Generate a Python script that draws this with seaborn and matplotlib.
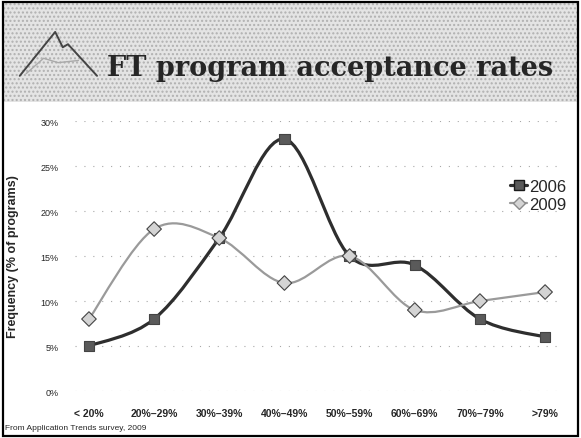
import numpy as np
import pandas as pd
import seaborn as sns
from matplotlib import pyplot as plt
from matplotlib.path import Path
from matplotlib.patches import PathPatch, Rectangle
from matplotlib.lines import Line2D

categories = ['< 20%', '20%–29%', '30%–39%', '40%–49%',
              '50%–59%', '60%–69%', '70%–79%', '>79%']
rates_2006 = [5, 8, 17, 28, 15, 14, 8, 6]
rates_2009 = [8, 18, 17, 12, 15, 9, 10, 11]
y_ticks = [0, 5, 10, 15, 20, 25, 30]

df = pd.DataFrame({
    'category': categories * 2,
    'rate': rates_2006 + rates_2009,
    'year': ['2006'] * len(categories) + ['2009'] * len(categories),
})
df['pos'] = df.groupby('year').cumcount()


def smooth_path(xs, ys):
    # catmull-rom to bezier, roughly what excel's smoothed line does
    pts = np.column_stack([xs, ys]).astype(float)
    ext = np.vstack([pts[0], pts, pts[-1]])
    verts = [pts[0]]
    codes = [Path.MOVETO]
    for i in range(1, len(ext) - 2):
        p0, p1, p2, p3 = ext[i - 1], ext[i], ext[i + 1], ext[i + 2]
        verts += [p1 + (p2 - p0) / 6, p2 - (p3 - p1) / 6, p2]
        codes += [Path.CURVE4] * 3
    return Path(verts, codes)


sns.set_style('white')
plt.rcParams['font.family'] = ['Liberation Sans', 'DejaVu Sans']

fig = plt.figure(figsize=(5.81, 4.39), dpi=100)

# slide header band + frame
fig.patches.append(Rectangle((0.005, 0.765), 0.99, 0.225, transform=fig.transFigure,
                             facecolor='#e4e4e4', edgecolor='#b0b0b0', hatch='....',
                             linewidth=0, zorder=0))
fig.patches.append(Rectangle((0.005, 0.005), 0.99, 0.988, transform=fig.transFigure,
                             fill=False, edgecolor='black', linewidth=1.6, zorder=5))
# little mountain logo
fig.add_artist(Line2D([0.034, 0.095, 0.108, 0.117, 0.167], [0.825, 0.925, 0.89, 0.897, 0.825],
                      transform=fig.transFigure, color='#444444', lw=1.4))
fig.add_artist(Line2D([0.045, 0.075, 0.1, 0.135], [0.83, 0.865, 0.855, 0.86],
                      transform=fig.transFigure, color='#aaaaaa', lw=1.0))
fig.text(0.184, 0.845, 'FT program acceptance rates', fontsize=19.5, fontweight='bold',
         family='DejaVu Serif', va='center', ha='left')

ax = fig.add_axes([0.129, 0.107, 0.835, 0.615])
styles = {
    '2006': dict(line='#2e2e2e', lw=2.3, marker='s', ms=7, face='#5a5a5a', edge='#1a1a1a'),
    '2009': dict(line='#9a9a9a', lw=1.6, marker='D', ms=6.5, face='#d4d4d4', edge='#8a8a8a'),
}
handles = []
for year, st in styles.items():
    sub = df[df['year'] == year]
    ax.add_patch(PathPatch(smooth_path(sub['pos'], sub['rate']), fill=False,
                           edgecolor=st['line'], lw=st['lw'], zorder=2))
    handles.append(Line2D([], [], color=st['line'], lw=st['lw'], marker=st['marker'],
                          markersize=st['ms'], markerfacecolor=st['face'],
                          markeredgecolor=st['edge'], label=year))

sns.scatterplot(data=df, x='pos', y='rate', hue='year', style='year',
                markers={'2006': 's', '2009': 'D'},
                palette={'2006': '#5a5a5a', '2009': '#d4d4d4'},
                edgecolor='#444444', linewidth=0.8, s=55, zorder=3, legend=False, ax=ax)

ax.set_xlim(-0.215, 7.23)
ax.set_ylim(0, 30)
ax.set_xticks(range(len(categories)))
ax.set_xticklabels(categories, fontsize=7.5, fontweight='bold')
ax.set_yticks(y_ticks)
ax.set_yticklabels([f'{t}%' for t in y_ticks], fontsize=6.5)
ax.tick_params(axis='both', length=0)
ax.tick_params(axis='x', pad=12)
ax.tick_params(axis='y', pad=12)
ax.set_xlabel('')
ax.set_ylabel('Frequency (% of programs)', fontsize=9, fontweight='bold', labelpad=6)
ax.yaxis.set_label_coords(-0.115, 0.5)
ax.grid(axis='y', color='#a8a8a8', linestyle=(0, (1, 7)), linewidth=0.8)
sns.despine(ax=ax, left=True, bottom=True)

fig.legend(handles=handles, loc='upper right', bbox_to_anchor=(1.0, 0.624), frameon=False,
           fontsize=12, handlelength=1.0, handletextpad=0.1, labelspacing=0.15,
           bbox_transform=fig.transFigure)

fig.text(0.008, 0.016, 'From Application Trends survey, 2009', fontsize=6, ha='left', va='bottom')

plt.savefig('out.png', dpi=100)
plt.close()
